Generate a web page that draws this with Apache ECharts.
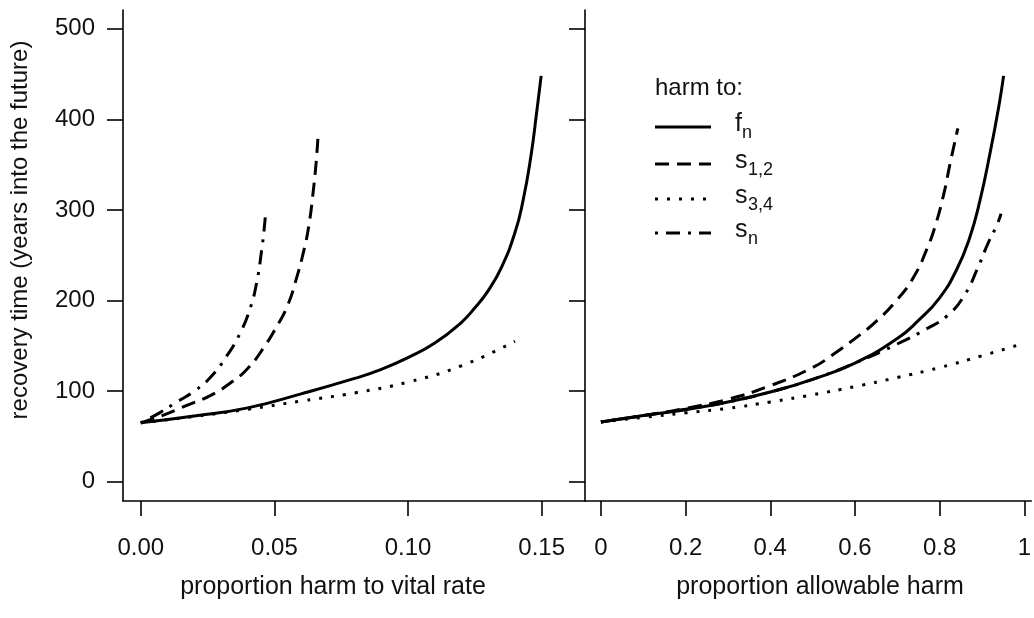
<!DOCTYPE html>
<html>
<head>
<meta charset="utf-8">
<script src="https://cdn.jsdelivr.net/npm/echarts@6/dist/echarts.min.js"></script>
<style>
  html, body { margin: 0; padding: 0; background: #fff; }
  #chart { width: 1034px; height: 618px; }
</style>
</head>
<body>
<div id="chart"></div>
<script>
// Left panel: recovery time against proportion of harm to each vital rate
const leftFnX  = [0, 0.02, 0.04, 0.06, 0.08, 0.09, 0.10, 0.11, 0.12, 0.125, 0.13, 0.135, 0.14, 0.143, 0.146, 0.148, 0.1498];
const leftFnY  = [65, 72.5, 81.5, 97, 114, 124, 137, 153, 176, 192, 211, 237, 275, 310, 360, 405, 448];
const leftS12X = [0, 0.008, 0.017, 0.026, 0.034, 0.04, 0.046, 0.051, 0.055, 0.058, 0.061, 0.063, 0.0645, 0.0656, 0.0664];
const leftS12Y = [65, 73, 84, 95, 110, 125, 148, 172, 195, 222, 255, 285, 320, 352, 385];
const leftS34X = [0, 0.02, 0.04, 0.06, 0.08, 0.10, 0.12, 0.14];
const leftS34Y = [65, 72, 80, 89, 98, 110, 128, 155];
const leftSnX  = [0, 0.007, 0.0135, 0.02, 0.026, 0.032, 0.037, 0.041, 0.0435, 0.0452, 0.0462, 0.0468];
const leftSnY  = [65, 76, 88, 100, 115, 138, 163, 192, 222, 255, 280, 300];

// Right panel: recovery time against proportion of allowable harm
const rightFnX  = [0, 0.1, 0.2, 0.3, 0.4, 0.5, 0.6, 0.7, 0.75, 0.8, 0.84, 0.87, 0.895, 0.92, 0.94, 0.951];
const rightFnY  = [66, 73, 79.5, 88, 99, 113, 131, 158, 178, 203, 234, 268, 310, 365, 415, 448];
const rightS12X = [0, 0.1, 0.2, 0.3, 0.4, 0.5, 0.55, 0.6, 0.65, 0.7, 0.74, 0.77, 0.79, 0.81, 0.825, 0.843];
const rightS12Y = [66, 73, 81, 91, 106, 126, 141, 158, 177, 201, 227, 257, 283, 318, 352, 390];
const rightS34X = [0, 0.1, 0.2, 0.3, 0.4, 0.5, 0.6, 0.7, 0.8, 0.9, 1.0];
const rightS34Y = [66, 71, 76, 81, 88, 96, 105, 115, 126, 139, 153];
const rightSnX  = [0, 0.1, 0.2, 0.3, 0.4, 0.5, 0.6, 0.7, 0.77, 0.82, 0.86, 0.89, 0.915, 0.935, 0.945];
const rightSnY  = [66, 73, 80, 88, 99, 113, 131, 152, 169, 184, 207, 236, 264, 283, 296];

// Tick values
const yTicks = [0, 100, 200, 300, 400, 500];
const leftXTicks = [0, 0.05, 0.10, 0.15];
const rightXTicks = [0, 0.2, 0.4, 0.6, 0.8, 1];

const FONT = 'Liberation Sans, Arial, Helvetica, sans-serif';
const INK = '#111';

// Line patterns: solid, dashed, dotted, dot-dash
const DASH = {
  fn: 'solid',
  s12: [14, 8],
  s34: [3, 9],
  sn: [3, 8, 14, 8]
};

function pairs(xs, ys) { return xs.map((x, i) => [x, ys[i]]); }

function curve(name, xs, ys, dash, gridIdx) {
  return {
    type: 'line', name: name,
    xAxisIndex: gridIdx, yAxisIndex: gridIdx,
    data: pairs(xs, ys),
    showSymbol: false, symbol: 'none',
    smooth: 0.5,
    lineStyle: { color: '#000', width: 3, type: dash, cap: 'butt' },
    silent: true, animation: false
  };
}

const axisLine = { show: true, onZero: false, lineStyle: { color: '#000', width: 1.6 } };

function xAxisFor(gridIdx, min, max, ticks, fmt) {
  return {
    type: 'value', gridIndex: gridIdx, min: min, max: max,
    axisLine: axisLine,
    axisTick: { show: true, length: 15, customValues: ticks, lineStyle: { color: '#000', width: 1.6 } },
    axisLabel: { show: true, customValues: ticks, formatter: fmt, margin: 35,
                 fontFamily: FONT, fontSize: 24, color: INK },
    splitLine: { show: false }
  };
}

function yAxisFor(gridIdx, showLabels) {
  return {
    type: 'value', gridIndex: gridIdx, min: -21.3, max: 520.7,
    axisLine: axisLine,
    axisTick: { show: true, length: 16, customValues: yTicks, lineStyle: { color: '#000', width: 1.6 } },
    axisLabel: { show: showLabels, customValues: yTicks, margin: 28,
                 fontFamily: FONT, fontSize: 24, color: INK },
    splitLine: { show: false }
  };
}

// Legend drawn as plain shapes and text in the right panel
const legendRows = [
  { key: 'fn',  main: 'f', sub: 'n',   y: 127 },
  { key: 's12', main: 's', sub: '1,2', y: 164 },
  { key: 's34', main: 's', sub: '3,4', y: 199 },
  { key: 'sn',  main: 's', sub: 'n',   y: 233 }
];
const legendGraphics = [
  { type: 'text', x: 655, y: 88, style: { text: 'harm to:', font: '24px ' + FONT, fill: INK, textVerticalAlign: 'middle' } }
];
legendRows.forEach(r => {
  legendGraphics.push({
    type: 'line', shape: { x1: 655, y1: r.y, x2: 711, y2: r.y },
    style: { stroke: '#000', lineWidth: 3, lineDash: DASH[r.key] === 'solid' ? null : DASH[r.key] }
  });
  legendGraphics.push({
    type: 'text', x: 735, y: r.y - 3,
    style: { text: r.main, font: '25px ' + FONT, fill: INK, textVerticalAlign: 'middle' }
  });
  legendGraphics.push({
    type: 'text', x: r.main === 'f' ? 742 : 748, y: r.y + 6,
    style: { text: r.sub, font: '18px ' + FONT, fill: INK, textVerticalAlign: 'middle' }
  });
});

const chart = echarts.init(document.getElementById('chart'), null, { renderer: 'canvas' });
chart.setOption({
  backgroundColor: '#fff',
  animation: false,
  grid: [
    { left: 123, top: 10, width: 462, height: 491 },
    { left: 585, top: 10, right: 0, height: 491 }
  ],
  xAxis: [
    xAxisFor(0, -0.00665, 0.1662, leftXTicks, v => v.toFixed(2)),
    xAxisFor(1, -0.0376, 1.0164, rightXTicks, v => String(Math.round(v * 10) / 10))
  ],
  yAxis: [yAxisFor(0, true), yAxisFor(1, false)],
  series: [
    curve('fn', leftFnX, leftFnY, DASH.fn, 0),
    curve('s12', leftS12X, leftS12Y, DASH.s12, 0),
    curve('s34', leftS34X, leftS34Y, DASH.s34, 0),
    curve('sn', leftSnX, leftSnY, DASH.sn, 0),
    curve('fn', rightFnX, rightFnY, DASH.fn, 1),
    curve('s12', rightS12X, rightS12Y, DASH.s12, 1),
    curve('s34', rightS34X, rightS34Y, DASH.s34, 1),
    curve('sn', rightSnX, rightSnY, DASH.sn, 1)
  ],
  graphic: [
    { type: 'text', x: 333, y: 587,
      style: { text: 'proportion harm to vital rate', font: '25px ' + FONT, fill: INK, textAlign: 'center', textVerticalAlign: 'middle' } },
    { type: 'text', x: 820, y: 587,
      style: { text: 'proportion allowable harm', font: '25px ' + FONT, fill: INK, textAlign: 'center', textVerticalAlign: 'middle' } },
    { type: 'text', x: 20, y: 230, rotation: Math.PI / 2,
      style: { text: 'recovery time (years into the future)', font: '24px ' + FONT, fill: INK, textAlign: 'center', textVerticalAlign: 'middle' } }
  ].concat(legendGraphics)
});
</script>
</body>
</html>
